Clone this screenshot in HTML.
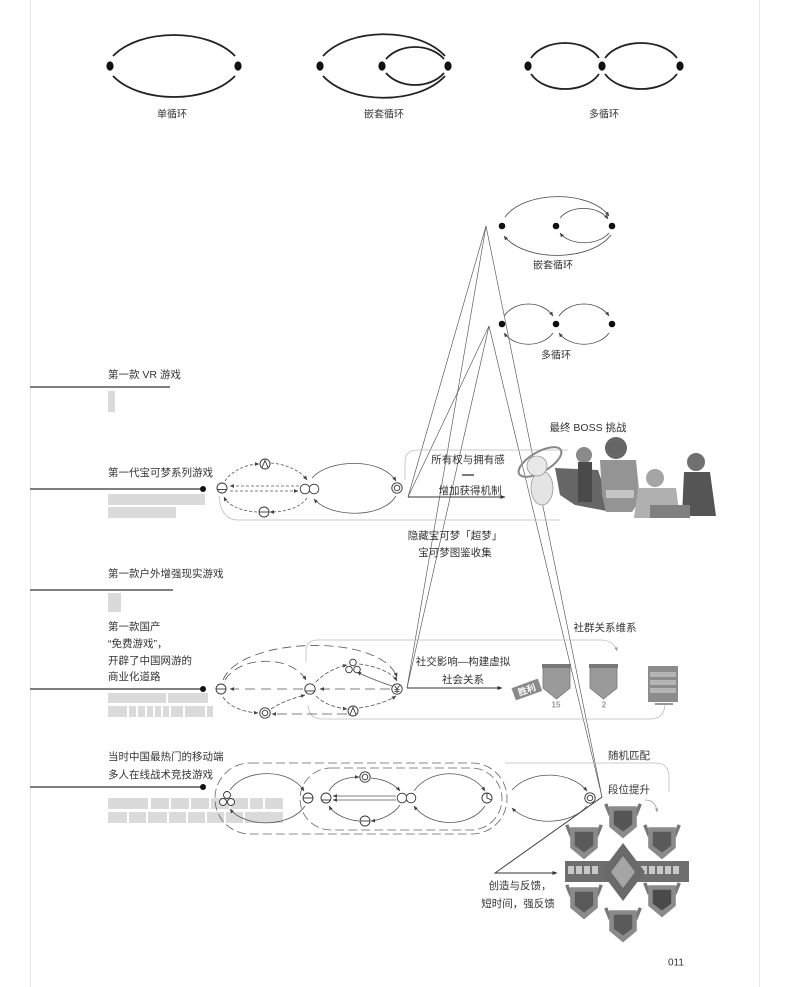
<!DOCTYPE html>
<html><head><meta charset="utf-8">
<style>
html,body{margin:0;padding:0;background:#fff;}
svg{display:block;}
text{font-family:"Liberation Sans","Noto Sans CJK SC",sans-serif;fill:#333;}
</style></head><body>
<svg width="790" height="987" viewBox="0 0 790 987" xmlns="http://www.w3.org/2000/svg">
<defs>
<marker id="a" viewBox="0 0 6 6" refX="5.5" refY="3" markerUnits="userSpaceOnUse" markerWidth="4.5" markerHeight="4.5" orient="auto"><path d="M0,0.5 L6,3 L0,5.5z" fill="#444"/></marker>
<marker id="g" viewBox="0 0 6 6" refX="5.5" refY="3" markerUnits="userSpaceOnUse" markerWidth="4" markerHeight="4" orient="auto"><path d="M0,0.5 L6,3 L0,5.5z" fill="#999"/></marker>
<marker id="b" viewBox="0 0 6 6" refX="5.5" refY="3" markerUnits="userSpaceOnUse" markerWidth="5" markerHeight="5" orient="auto"><path d="M0,0.5 L6,3 L0,5.5z" fill="#333"/></marker>
</defs>

<line x1="30.5" y1="0" x2="30.5" y2="987" stroke="#e8e8e8" stroke-width="1"/>
<line x1="759.5" y1="0" x2="759.5" y2="987" stroke="#e8e8e8" stroke-width="1"/>

<g fill="none" stroke="#222" stroke-width="1.8">
  <path d="M113 56 C140 28,208 28,235 56"/>
  <path d="M113 76 C140 104,208 104,235 76"/>
  <path d="M323 56 C350 27,418 27,445 56"/>
  <path d="M323 76 C350 105,418 105,445 76"/>
  <path d="M386 59 C400 43,430 43,444 59"/>
  <path d="M386 73 C400 89,430 89,444 73"/>
  <path d="M531 58 C545 38,585 38,599 58"/>
  <path d="M531 74 C545 94,585 94,599 74"/>
  <path d="M605 58 C620 38,662 38,677 58"/>
  <path d="M605 74 C620 94,662 94,677 74"/>
</g>
<g fill="#111">
  <ellipse cx="110" cy="66" rx="3.6" ry="4.6"/>
  <ellipse cx="238" cy="66" rx="3.6" ry="4.6"/>
  <ellipse cx="320" cy="66" rx="3.6" ry="4.6"/>
  <ellipse cx="382" cy="66" rx="3.6" ry="4.6"/>
  <ellipse cx="448" cy="66" rx="3.6" ry="4.6"/>
  <ellipse cx="528" cy="66" rx="3.6" ry="4.6"/>
  <ellipse cx="602" cy="66" rx="3.6" ry="4.6"/>
  <ellipse cx="680" cy="66" rx="3.6" ry="4.6"/>
</g>
<g font-size="10" text-anchor="middle" dominant-baseline="central">
  <text x="172" y="115">单循环</text>
  <text x="384" y="115">嵌套循环</text>
  <text x="604" y="115">多循环</text>
</g>

<g fill="none" stroke="#444" stroke-width="0.8">
  <path d="M505 217 C525 190,590 190,609 216" marker-end="url(#a)"/>
  <path d="M611 235 C590 262,525 262,504 236" marker-end="url(#a)"/>
  <path d="M560 218 C570 205,598 205,608 219" marker-end="url(#a)"/>
  <path d="M609 233 C598 246,570 246,560 233" marker-end="url(#a)"/>
  <path d="M504 316 C515 300,542 300,553 316" marker-end="url(#a)"/>
  <path d="M553 333 C542 348,515 348,504 333" marker-end="url(#a)"/>
  <path d="M559 316 C570 300,598 300,609 316" marker-end="url(#a)"/>
  <path d="M609 333 C598 348,570 348,559 333" marker-end="url(#a)"/>
</g>
<g fill="#111">
  <circle cx="502" cy="226" r="3.3"/><circle cx="556" cy="226" r="3.3"/><circle cx="612" cy="226" r="3.3"/>
  <circle cx="502" cy="324" r="3.3"/><circle cx="556" cy="324" r="3.3"/><circle cx="612" cy="324" r="3.3"/>
</g>
<g font-size="10" text-anchor="middle" dominant-baseline="central">
  <text x="553" y="266">嵌套循环</text>
  <text x="556" y="356">多循环</text>
</g>

<g stroke="#333" stroke-width="1.2">
  <line x1="30" y1="387" x2="170" y2="387"/>
  <line x1="30" y1="489" x2="203" y2="489"/>
  <line x1="30" y1="590" x2="173" y2="590"/>
  <line x1="30" y1="689" x2="203" y2="689"/>
  <line x1="30" y1="787" x2="203" y2="787"/>
</g>
<g fill="#111">
  <circle cx="203" cy="489" r="3"/>
  <circle cx="203" cy="689" r="3"/>
  <circle cx="203" cy="787" r="3"/>
</g>
<g font-size="10.5" dominant-baseline="central">
  <text x="108" y="375">第一款 VR 游戏</text>
  <text x="108" y="473">第一代宝可梦系列游戏</text>
  <text x="108" y="574">第一款户外增强现实游戏</text>
  <text x="108" y="627">第一款国产</text>
  <text x="108" y="644">“免费游戏”，</text>
  <text x="108" y="661">开辟了中国网游的</text>
  <text x="108" y="677">商业化道路</text>
  <text x="108" y="757">当时中国最热门的移动端</text>
  <text x="108" y="775">多人在线战术竞技游戏</text>
</g>
<g fill="#dadada">
  <rect x="108" y="391" width="7" height="21"/>
  <rect x="108" y="494" width="97" height="11"/>
  <rect x="108" y="507" width="68" height="11"/>
  <rect x="108" y="593" width="13" height="19"/>
  <rect x="108" y="693" width="58" height="10"/>
  <rect x="168" y="693" width="40" height="10"/>
  <rect x="108" y="706" width="19" height="11"/>
  <rect x="129" y="706" width="7" height="11"/>
  <rect x="138" y="706" width="7" height="11"/>
  <rect x="147" y="706" width="6" height="11"/>
  <rect x="155" y="706" width="6" height="11"/>
  <rect x="163" y="706" width="6" height="11"/>
  <rect x="171" y="706" width="12" height="11"/>
  <rect x="185" y="706" width="20" height="11"/>
  <rect x="207" y="706" width="6" height="11"/>
  <rect x="108" y="798" width="40" height="11"/>
  <rect x="151" y="798" width="18" height="11"/>
  <rect x="171" y="798" width="18" height="11"/>
  <rect x="191" y="798" width="18" height="11"/>
  <rect x="211" y="798" width="18" height="11"/>
  <rect x="231" y="798" width="17" height="11"/>
  <rect x="250" y="798" width="13" height="11"/>
  <rect x="265" y="798" width="18" height="11"/>
  <rect x="108" y="812" width="19" height="11"/>
  <rect x="129" y="812" width="17" height="11"/>
  <rect x="148" y="812" width="19" height="11"/>
  <rect x="169" y="812" width="17" height="11"/>
  <rect x="188" y="812" width="17" height="11"/>
  <rect x="207" y="812" width="17" height="11"/>
  <rect x="226" y="812" width="17" height="11"/>
  <rect x="245" y="812" width="38" height="11"/>
</g>

<g stroke="#555" stroke-width="0.65" fill="none">
  <line x1="486" y1="226" x2="408" y2="497"/>
  <line x1="489" y1="326" x2="408" y2="497"/>
  <line x1="486" y1="226" x2="407" y2="688"/>
  <line x1="489" y1="326" x2="407" y2="688"/>
  <line x1="486" y1="226" x2="602" y2="797"/>
  <line x1="489" y1="326" x2="602" y2="797"/>
</g>
<g stroke="#333" stroke-width="0.9" fill="none">
  <path d="M408 497 L505 497" marker-end="url(#b)"/>
  <path d="M407 688 L502 688" marker-end="url(#b)"/>
  <path d="M602 797 L495 873 L557 873" marker-end="url(#b)"/>
</g>

<g fill="none" stroke="#bbb" stroke-width="0.8">
  <path d="M405 480 L405 462 Q405 450 418 450 L568 450"/>
  <path d="M219 496 Q221 520 238 520 L560 520"/>
</g>
<g fill="none" stroke="#555" stroke-width="0.8" stroke-dasharray="3 2">
  <path d="M225 481 C232 470,248 464,259 464" marker-end="url(#a)"/>
  <path d="M271 463 C285 464,300 470,307 480" marker-end="url(#a)"/>
  <path d="M299 486 L230 486" marker-end="url(#a)"/>
  <path d="M230 491 L298 491" marker-end="url(#a)"/>
  <path d="M307 498 C300 508,285 512,270 512" marker-end="url(#a)"/>
  <path d="M257 512 C240 511,228 505,224 497" marker-end="url(#a)"/>
</g>
<g fill="none" stroke="#555" stroke-width="0.8">
  <path d="M312 478 C330 458,382 458,396 481" marker-end="url(#a)"/>
  <path d="M396 496 C382 519,330 518,314 499" marker-end="url(#a)"/>
</g>
<g fill="#fff" stroke="#333" stroke-width="0.9">
  <circle cx="222" cy="488" r="5"/><line x1="217" y1="489.5" x2="227" y2="489.5"/>
  <circle cx="265" cy="464" r="5"/><path d="M262 467.5 L265 460.5 L268 467.5" fill="none"/>
  <circle cx="264" cy="512" r="5"/><line x1="259" y1="512" x2="269" y2="512"/>
  <circle cx="305" cy="489" r="4.8"/><circle cx="314" cy="489" r="4.8"/>
  <circle cx="397" cy="488" r="5.2"/><circle cx="397" cy="488" r="2.8"/>
</g>
<g font-size="10.5" text-anchor="middle" dominant-baseline="central">
  <text x="468" y="460">所有权与拥有感</text>
  <text x="470" y="491">增加获得机制</text>
  <text x="455" y="536">隐藏宝可梦「超梦」</text>
  <text x="455" y="553">宝可梦图鉴收集</text>
  <text x="588" y="428">最终 BOSS 挑战</text>
</g>
<line x1="462" y1="475" x2="474" y2="475" stroke="#333" stroke-width="1.3"/>

<g>
  <ellipse cx="540" cy="462" rx="24" ry="10" transform="rotate(-30 540 462)" fill="none" stroke="#888" stroke-width="2"/>
  <ellipse cx="542" cy="488" rx="11" ry="17" fill="#e4e4e4" stroke="#999" stroke-width="0.8"/>
  <circle cx="537" cy="466" r="10" fill="#e8e8e8" stroke="#999" stroke-width="0.8"/>
  <path d="M555 468 L598 470 L612 512 L575 505 L560 495 Z" fill="#666"/>
  <circle cx="584" cy="455" r="8" fill="#8a8a8a"/>
  <rect x="578" y="462" width="14" height="40" fill="#4a4a4a"/>
  <circle cx="616" cy="448" r="11" fill="#666"/>
  <path d="M600 460 L636 460 L640 500 L632 512 L606 512 L602 495 Z" fill="#949494"/>
  <rect x="606" y="490" width="28" height="8" fill="#c4c4c4"/>
  <circle cx="655" cy="478" r="9" fill="#a5a5a5"/>
  <path d="M638 488 L676 488 L680 518 L634 518 Z" fill="#b0b0b0"/>
  <circle cx="696" cy="462" r="9" fill="#707070"/>
  <path d="M684 472 L710 472 L716 516 L682 516 Z" fill="#555"/>
  <path d="M650 505 L690 505 L690 518 L650 518 Z" fill="#808080"/>
</g>

<g fill="none" stroke="#bbb" stroke-width="0.8">
  <path d="M306 662 L306 651 Q306 640 318 640 L600 640 Q614 640 617 651" marker-end="url(#g)"/>
  <path d="M308 705 Q309 719 322 719 L650 719 Q664 719 665 705"/>
</g>
<g fill="none" stroke="#555" stroke-width="0.8">
  <path d="M223 680 C240 637,380 632,397 677" stroke-dasharray="9 5" marker-end="url(#a)"/>
  <path d="M225 680 C240 655,292 655,306 680" stroke-dasharray="9 5" marker-end="url(#a)"/>
  <path d="M303 689 L230 689" stroke-dasharray="10 6" marker-end="url(#a)"/>
  <path d="M390 689 L320 689" stroke-dasharray="10 5" marker-end="url(#a)"/>
  <path d="M316 682 C325 672,338 667,347 665" stroke-dasharray="4 2" marker-end="url(#a)"/>
  <path d="M359 664 C375 666,392 672,397 681" stroke-dasharray="4 2" marker-end="url(#a)"/>
  <path d="M392 686 C380 682,365 676,357 672" marker-end="url(#a)"/>
  <path d="M316 696 C325 705,338 708,347 709" stroke-dasharray="4 2" marker-end="url(#a)"/>
  <path d="M359 708 C375 706,390 700,396 696" stroke-dasharray="4 2" marker-end="url(#a)"/>
  <path d="M347 714 L272 714" stroke-dasharray="10 5" marker-end="url(#a)"/>
  <path d="M271 709 C285 700,298 697,305 695" stroke-dasharray="4 2" marker-end="url(#a)"/>
  <path d="M223 697 C230 708,245 712,258 713" stroke-dasharray="4 2" marker-end="url(#a)"/>
</g>
<g fill="#fff" stroke="#333" stroke-width="0.9">
  <circle cx="221" cy="689" r="5"/><line x1="216" y1="689" x2="226" y2="689"/>
  <circle cx="310" cy="689" r="5.2"/><line x1="305" y1="691" x2="315" y2="691"/>
  <circle cx="265" cy="713" r="5.2"/><circle cx="265" cy="713" r="2.8"/>
  <circle cx="353" cy="711" r="5"/><path d="M350 714.5 L353 707.5 L356 714.5" fill="none"/>
  <circle cx="353" cy="662.5" r="3.3"/><circle cx="349" cy="669.5" r="3.3"/><circle cx="357" cy="669.5" r="3.3"/>
  <circle cx="397" cy="689" r="5.2"/>
  <path d="M394.5 685.5 L397 689 L399.5 685.5 M397 689 L397 693 M394.5 689.5 L399.5 689.5 M394.5 691.3 L399.5 691.3" fill="none" stroke-width="0.8"/>
</g>
<g font-size="10.5" text-anchor="middle" dominant-baseline="central">
  <text x="463" y="662">社交影响—构建虚拟</text>
  <text x="463" y="680">社会关系</text>
  <text x="605" y="628">社群关系维系</text>
</g>
<g>
  <path d="M543 666 L570 666 L570 688 L556.5 699 L543 688 Z" fill="#9a9a9a" stroke="#777" stroke-width="0.8"/>
  <rect x="542" y="664" width="29" height="4" fill="#777"/>
  <path d="M590 666 L617 666 L617 688 L603.5 699 L590 688 Z" fill="#9a9a9a" stroke="#777" stroke-width="0.8"/>
  <rect x="589" y="664" width="29" height="4" fill="#777"/>
  <g transform="rotate(-20 527 690)">
    <rect x="513" y="683" width="28" height="13" fill="#8a8a8a"/>
    <text x="527" y="690" font-size="9" font-weight="bold" text-anchor="middle" dominant-baseline="central" style="fill:#fff">胜利</text>
  </g>
  <text x="556" y="705" font-size="8" font-weight="bold" text-anchor="middle" dominant-baseline="central" style="fill:#999">15</text>
  <text x="604" y="705" font-size="8" font-weight="bold" text-anchor="middle" dominant-baseline="central" style="fill:#999">2</text>
  <rect x="648" y="666" width="30" height="36" fill="#8c8c8c"/>
  <rect x="650" y="672" width="26" height="5" fill="#b5b5b5"/>
  <rect x="650" y="680" width="26" height="5" fill="#b5b5b5"/>
  <rect x="650" y="688" width="26" height="5" fill="#b5b5b5"/>
  <rect x="655" y="703" width="18" height="2" fill="#999"/>
</g>

<g fill="none" stroke="#bbb" stroke-width="0.8">
  <path d="M505 763 L655 763 Q669 763 669 777 L669 792"/>
</g>
<g fill="none" stroke="#666" stroke-width="0.8" stroke-dasharray="9 4">
  <rect x="215" y="763" width="292" height="71" rx="35"/>
  <rect x="300" y="768" width="202" height="62" rx="31"/>
</g>
<g fill="none" stroke="#555" stroke-width="0.8">
  <path d="M230 790 C245 768,290 768,304 791" marker-end="url(#a)"/>
  <path d="M305 806 C290 828,245 828,230 809" marker-end="url(#a)"/>
  <path d="M329 791 C335 780,348 777,359 777" marker-end="url(#a)"/>
  <path d="M371 778 C385 779,395 785,400 791" marker-end="url(#a)"/>
  <path d="M400 805 C395 813,382 820,371 821" marker-end="url(#a)"/>
  <path d="M359 821 C345 820,333 813,329 806" marker-end="url(#a)"/>
  <path d="M396 796 L333 796" marker-end="url(#a)"/>
  <path d="M396 800 L333 800" marker-end="url(#a)"/>
  <path d="M414 791 C430 768,470 768,485 791" marker-end="url(#a)"/>
  <path d="M485 806 C470 828,430 828,414 806" marker-end="url(#a)"/>
  <path d="M512 790 C530 770,570 770,587 791" marker-end="url(#a)"/>
  <path d="M587 806 C570 826,530 826,512 808" marker-end="url(#a)"/>
  <path d="M645 800 Q656 800 657 812" stroke="#999" marker-end="url(#g)"/>
</g>
<g fill="#fff" stroke="#333" stroke-width="0.9">
  <circle cx="227" cy="795" r="3.5"/><circle cx="223" cy="802" r="3.5"/><circle cx="231" cy="802" r="3.5"/>
  <circle cx="308" cy="798" r="5"/><line x1="303" y1="798" x2="313" y2="798"/>
  <circle cx="326" cy="798" r="5"/><line x1="321" y1="800" x2="331" y2="800"/>
  <circle cx="365" cy="777" r="5.2"/><circle cx="365" cy="777" r="2.8"/>
  <circle cx="402" cy="798" r="4.8"/><circle cx="411" cy="798" r="4.8"/>
  <circle cx="365" cy="821" r="5"/><line x1="360" y1="821" x2="370" y2="821"/>
  <circle cx="487" cy="798" r="5"/><path d="M487 793 L487 798 L491.5 800" fill="none"/>
  <circle cx="590" cy="798" r="5.2"/><circle cx="590" cy="798" r="2.8"/>
</g>
<g font-size="10.5" text-anchor="middle" dominant-baseline="central">
  <text x="629" y="756">随机匹配</text>
  <text x="629" y="790">段位提升</text>
  <text x="520" y="886">创造与反馈，</text>
  <text x="518" y="904">短时间，强反馈</text>
</g>

<g>
  <g transform="translate(623 820) scale(1.15)">
    <path d="M-15 -14 L-11 -4 M15 -14 L11 -4" stroke="#777" stroke-width="3"/>
    <path d="M-12 -12 L12 -12 L12 6 L0 16 L-12 6 Z" fill="#8a8a8a"/>
    <path d="M-8 -8 L8 -8 L8 4 L0 10 L-8 4 Z" fill="#555"/>
  </g>
  <g transform="translate(584 841) scale(1.15)">
    <path d="M-15 -14 L-11 -4 M15 -14 L11 -4" stroke="#777" stroke-width="3"/>
    <path d="M-12 -12 L12 -12 L12 6 L0 16 L-12 6 Z" fill="#8a8a8a"/>
    <path d="M-8 -8 L8 -8 L8 4 L0 10 L-8 4 Z" fill="#5a5a5a"/>
  </g>
  <g transform="translate(662 841) scale(1.15)">
    <path d="M-15 -14 L-11 -4 M15 -14 L11 -4" stroke="#777" stroke-width="3"/>
    <path d="M-12 -12 L12 -12 L12 6 L0 16 L-12 6 Z" fill="#8a8a8a"/>
    <path d="M-8 -8 L8 -8 L8 4 L0 10 L-8 4 Z" fill="#5a5a5a"/>
  </g>
  <g transform="translate(584 901) scale(1.15)">
    <path d="M-15 -14 L-11 -4 M15 -14 L11 -4" stroke="#777" stroke-width="3"/>
    <path d="M-12 -12 L12 -12 L12 6 L0 16 L-12 6 Z" fill="#8a8a8a"/>
    <path d="M-8 -8 L8 -8 L8 4 L0 10 L-8 4 Z" fill="#5a5a5a"/>
  </g>
  <g transform="translate(662 899) scale(1.15)">
    <path d="M-15 -14 L-11 -4 M15 -14 L11 -4" stroke="#777" stroke-width="3"/>
    <path d="M-12 -12 L12 -12 L12 6 L0 16 L-12 6 Z" fill="#8a8a8a"/>
    <path d="M-8 -8 L8 -8 L8 4 L0 10 L-8 4 Z" fill="#4a4a4a"/>
  </g>
  <g transform="translate(623 924) scale(1.15)">
    <path d="M-15 -14 L-11 -4 M15 -14 L11 -4" stroke="#777" stroke-width="3"/>
    <path d="M-12 -12 L12 -12 L12 6 L0 16 L-12 6 Z" fill="#8a8a8a"/>
    <path d="M-8 -8 L8 -8 L8 4 L0 10 L-8 4 Z" fill="#5a5a5a"/>
  </g>
  <rect x="565" y="861" width="124" height="21" fill="#6e6e6e"/>
  <g fill="#c8c8c8">
    <rect x="568" y="866" width="6" height="8"/><rect x="576" y="866" width="6" height="8"/>
    <rect x="584" y="866" width="6" height="8"/><rect x="592" y="866" width="6" height="8"/>
    <rect x="641" y="866" width="6" height="8"/><rect x="649" y="866" width="6" height="8"/>
    <rect x="657" y="866" width="6" height="8"/><rect x="665" y="866" width="6" height="8"/>
    <rect x="673" y="866" width="6" height="8"/>
  </g>
  <path d="M623 843 L645 872 L623 901 L601 872 Z" fill="#6a6a6a"/>
  <path d="M623 856 L635 872 L623 888 L611 872 Z" fill="#a5a5a5"/>
</g>

<text x="676" y="963" font-size="10" text-anchor="middle" dominant-baseline="central">011</text>
</svg>
</body></html>
